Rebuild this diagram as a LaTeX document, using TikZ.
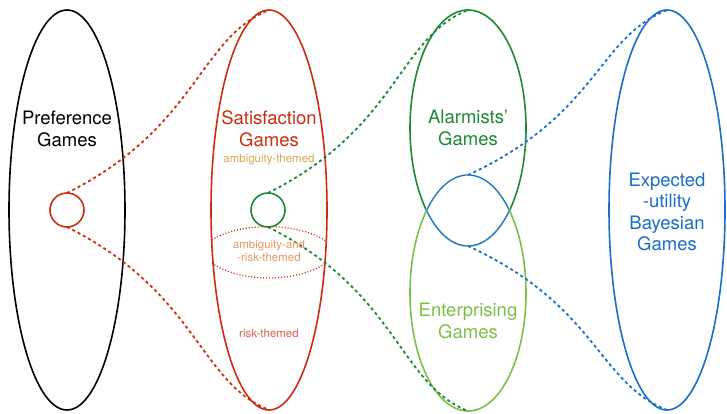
\documentclass[tikz,border=0pt]{standalone}
\usepackage{fontspec}
\setmainfont{TeX Gyre Heros}
\usepackage{tikz}
\usetikzlibrary{shapes.geometric}

\definecolor{satred}{RGB}{204,45,16}
\definecolor{alarmgreen}{RGB}{28,138,52}
\definecolor{entergreen}{RGB}{125,192,70}
\definecolor{eublue}{RGB}{25,110,200}
\definecolor{ambgold}{RGB}{214,168,76}
\definecolor{bothorange}{RGB}{238,150,92}
\definecolor{riskred}{RGB}{222,96,80}

\tikzset{
  gameset/.style={draw=#1, ellipse, line width=1.6pt, minimum width=116pt,
    minimum height=400pt, inner sep=0pt, outer sep=0pt},
  halfset/.style={gameset=#1, minimum height=236pt},
  subset/.style={draw=#1, circle, line width=1.6pt, minimum size=34pt,
    inner sep=0pt, outer sep=0pt},
  link/.style={draw=#1, line width=1.8pt, dash pattern=on 3pt off 3pt},
  bandline/.style={draw=satred, line width=1.3pt, dash pattern=on 1pt off 2pt},
  lensline/.style={draw=eublue, line width=1.2pt, preaction={draw=white, line width=1.7pt}},
  bigtext/.style={font=\fontsize{18.5}{21.5}\selectfont, align=center, inner sep=0pt},
  smalltext/.style={font=\fontsize{11.5}{13}\selectfont, align=center, inner sep=0pt},
}

\begin{document}
\begin{tikzpicture}[x=1pt, y=-1pt]
		\useasboundingbox (0,0) rectangle (727,413);

		\node[gameset=black] (pref) at (67,210) {};
		\node[gameset=satred] (sat) at (269,210) {};
		\node[halfset=alarmgreen] (alarm) at (468,128) {};
		\node[halfset=entergreen] (enter) at (468,293) {};
		\node[gameset=eublue] (eub) at (667,210) {};

		\node[subset=satred] (pc) at (67,210) {};
		\node[subset=alarmgreen] (sc) at (268,210) {};

		% lens where the two halves overlap
		\begin{scope}
			\clip (468,128) ellipse [x radius=58, y radius=118];
			\draw[lensline] (468,293) ellipse [x radius=58, y radius=118];
		\end{scope}
		\begin{scope}
			\clip (468,293) ellipse [x radius=58, y radius=118];
			\draw[lensline] (468,128) ellipse [x radius=58, y radius=118];
		\end{scope}

		% band inside the satisfaction games
		\draw[bandline] (212,240) .. controls (240,222) and (297,222) .. (326,241);
		\draw[bandline] (212,263) .. controls (240,283) and (297,283) .. (326,263);

		\draw[link=satred] (pc.north) .. controls +(130,-65) and +(-70,28) .. (sat.north);
		\draw[link=satred] (pc.south) .. controls +(130,65) and +(-70,-28) .. (sat.south);
		\draw[link=alarmgreen] (sc.north) .. controls +(130,-65) and +(-70,28) .. (alarm.north);
		\draw[link=alarmgreen] (sc.south) .. controls +(130,65) and +(-70,-28) .. (enter.south);
		\draw[link=eublue] (enter.north) .. controls +(130,-60) and +(-70,28) .. (eub.north);
		\draw[link=eublue] (alarm.south) .. controls +(130,60) and +(-70,-28) .. (eub.south);

		\node[bigtext] (preft) at (67,129) {Preference\\Games};
		\node[bigtext, text=satred] (satt) at (269,129) {Satisfaction\\Games};
		\node[smalltext, text=ambgold] (ambt) at (269,160) {ambiguity-themed};
		\node[smalltext, text=bothorange] (botht) at (269,251) {ambiguity-and\\-risk-themed};
		\node[smalltext, text=riskred] (riskt) at (269,333) {risk-themed};
		\node[bigtext, text=alarmgreen] (alarmt) at (468,128) {Alarmists'\\Games};
		\node[bigtext, text=entergreen] (entert) at (468,321) {Enterprising\\Games};
		\node[bigtext, text=eublue] (eubt) at (667,212) {Expected\\-utility\\Bayesian\\Games};
	\end{tikzpicture}
\end{document}
